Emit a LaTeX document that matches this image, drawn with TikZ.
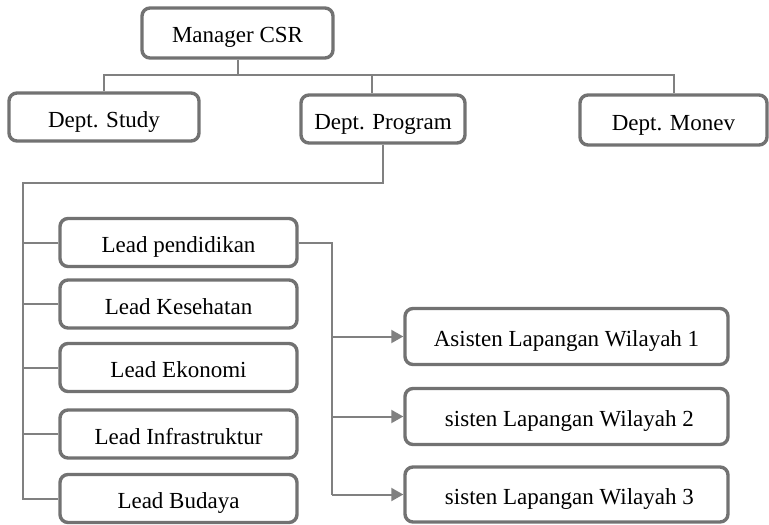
\documentclass[tikz,border=0pt]{standalone}
\usepackage{fontspec}
\setmainfont{Liberation Serif}
\usetikzlibrary{arrows.meta, positioning, calc}
\definecolor{frame}{HTML}{727272}
\definecolor{wire}{HTML}{808080}

\begin{document}
\begin{tikzpicture}[
  x=0.5pt, y=-0.5pt,
  box/.style={draw=frame, fill=white, line width=1.7pt, rounded corners=4pt,
              align=center, font=\fontsize{11.5}{14}\selectfont,
              text height=11pt, text depth=1pt,
              inner sep=2pt, minimum height=24pt},
  dept/.style={box, minimum width=95pt},
  lead/.style={box, minimum width=118.5pt},
  asst/.style={box, minimum width=161.5pt, minimum height=28pt},
  link/.style={draw=wire, line width=1pt},
  arr/.style={link, -{Triangle[length=6pt, width=6.5pt]}}
]
\useasboundingbox (0,0) rectangle (769,524);

\node[box, minimum width=95.5pt, minimum height=25pt] (mgr) at (237.5,33) {Manager CSR};
\node[dept] (study) at (104,117) {Dept. Study};
\node[dept, minimum width=82pt] (prog) at (383,119) {Dept. Program};
\node[dept, minimum width=93.5pt, minimum height=25pt] (monev) at (673.5,120) {Dept. Monev};

\node[lead] (pend) at (178.5,242.5) {Lead pendidikan};
\node[lead] (kes) at (178.5,304) {Lead Kesehatan};
\node[lead] (eko) at (178.5,367.5) {Lead Ekonomi};
\node[lead] (infra) at (178.5,434) {Lead Infrastruktur};
\node[lead] (bud) at (178.5,498.5) {Lead Budaya};

\node[asst] (asst1) at (566.5,336.5) {Asisten Lapangan Wilayah 1};
\node[asst] (asst2) at (566.5,416.5) {\ sisten Lapangan Wilayah 2};
\node[asst, minimum height=27.5pt] (asst3) at (566.5,494.5) {\ sisten Lapangan Wilayah 3};

% top level
\coordinate (bus) at (237.5,75);
\draw[link] (mgr.south) -- (bus);
\draw[link] (study.north) |- (bus) -| (monev.north);
\draw[link] (bus -| 372,0) -- ([xshift=-5.5pt]prog.north);

% program leads
\coordinate (spine) at (23,183);
\draw[link] (prog.south) |- (spine) -- (spine |- bud.west) -- (bud.west);
\foreach \n in {pend, kes, eko, infra}
  \draw[link] (spine |- \n.west) -- (\n.west);

% field assistants
\coordinate (drop) at (332,242.5);
\draw[link] (pend.east) -- (drop) -- (drop |- asst3.west);
\foreach \n in {asst1, asst2, asst3}
  \draw[arr] (drop |- \n.west) -- (\n.west);

\end{tikzpicture}
\end{document}
